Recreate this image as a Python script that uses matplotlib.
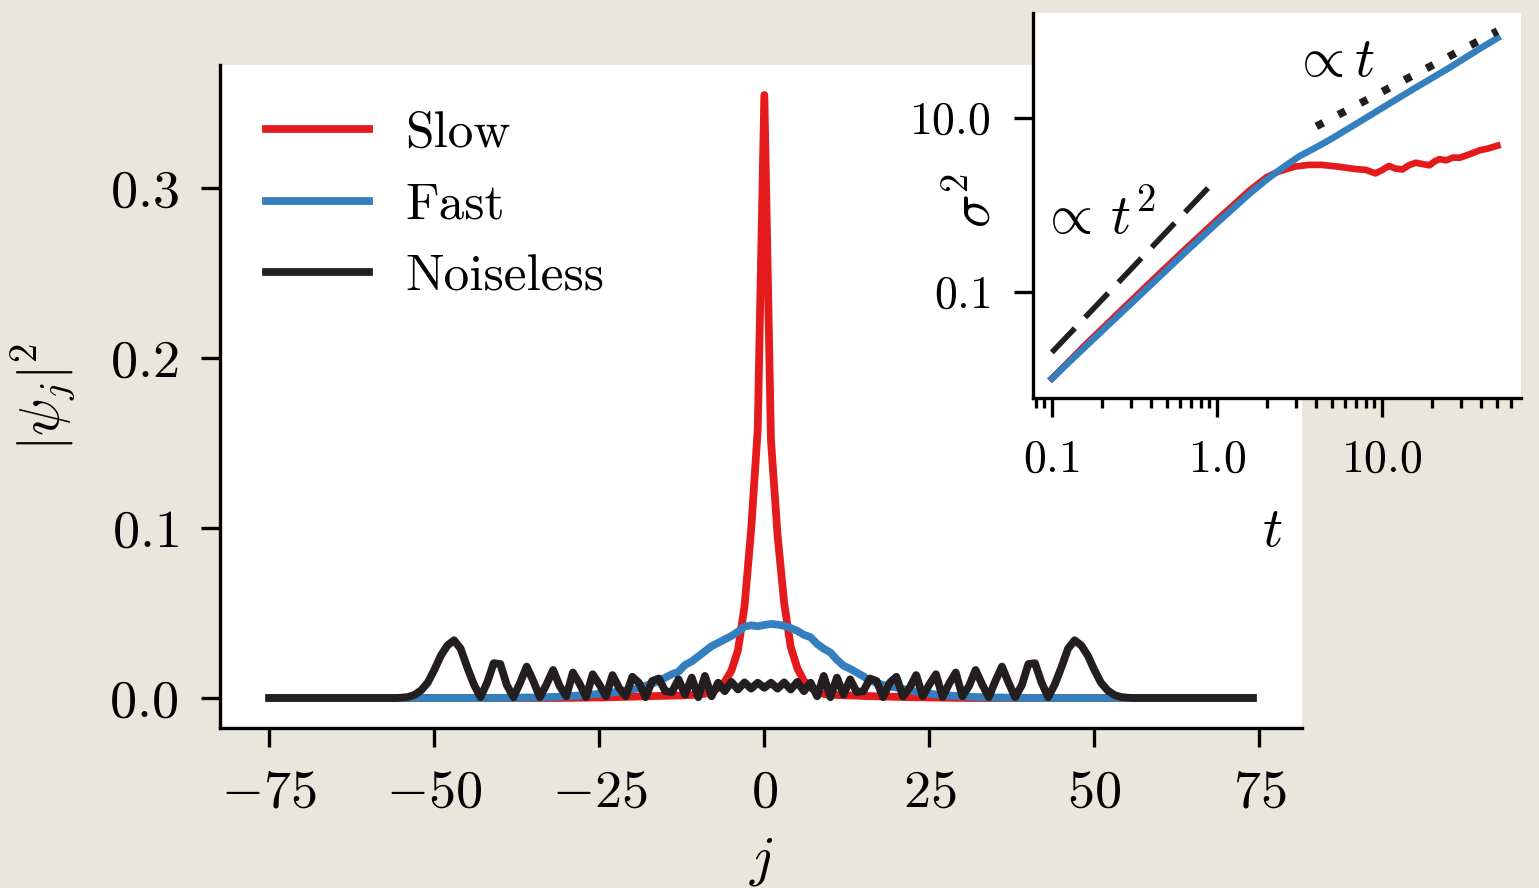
import numpy as np
import matplotlib
matplotlib.use("Agg")
import matplotlib.pyplot as plt
from matplotlib.ticker import FuncFormatter, FixedLocator, LogLocator, NullFormatter, NullLocator

plt.rcParams["font.family"] = "serif"
plt.rcParams["font.serif"] = ["cmr10", "DejaVu Serif"]
plt.rcParams["mathtext.fontset"] = "cm"
plt.rcParams["axes.unicode_minus"] = False

BG = "#e9e7db"
RED = "#e41a1c"
BLUE = "#3480bf"
BLACK = "#231f20"

# ---- main panel: site probabilities, j = -75 .. 74
j = np.arange(-75, 75)

# noiseless walk, j = 0 .. 55 (mirrored for negative j)
noiseless_half = [
    0.0060, 0.0090, 0.0055, 0.0092, 0.0050, 0.0095, 0.0040, 0.0090, 0.0010, 0.0130,
    0.0005, 0.0120, 0.0020, 0.0110, 0.0035, 0.0040, 0.0115, 0.0100, 0.0005, 0.0090,
    0.0125, 0.0010, 0.0060, 0.0135, 0.0010, 0.0080, 0.0140, 0.0005, 0.0085, 0.0150,
    0.0010, 0.0070, 0.0165, 0.0080, 0.0005, 0.0100, 0.0185, 0.0090, 0.0005, 0.0075,
    0.0200, 0.0205, 0.0090, 0.0005, 0.0080, 0.0180, 0.0290, 0.0340, 0.0310, 0.0250,
    0.0165, 0.0090, 0.0045, 0.0018, 0.0006, 0.0002,
]
noiseless = [0.0] * 20 + noiseless_half[:0:-1] + noiseless_half + [0.0] * 19

# fast noise, j = -40 .. 40
fast_core = [
    0.0001, 0.0001, 0.0002, 0.0002, 0.0003, 0.0003, 0.0004, 0.0005, 0.0006, 0.0008,
    0.0010, 0.0012, 0.0015, 0.0018, 0.0021, 0.0024, 0.0028, 0.0033, 0.0038, 0.0044,
    0.0050, 0.0060, 0.0072, 0.0085, 0.0100, 0.0120, 0.0140, 0.0155, 0.0195, 0.0215,
    0.0245, 0.0275, 0.0305, 0.0325, 0.0345, 0.0365, 0.0390, 0.0420, 0.0428, 0.0422,
    0.0430,
    0.0436, 0.0432, 0.0425, 0.0412, 0.0395, 0.0372, 0.0358, 0.0318, 0.0290, 0.0268,
    0.0225, 0.0190, 0.0172, 0.0150, 0.0128, 0.0102, 0.0090, 0.0076, 0.0068, 0.0062,
    0.0053, 0.0045, 0.0038, 0.0031, 0.0025, 0.0021, 0.0017, 0.0014, 0.0012, 0.0010,
    0.0008, 0.0006, 0.0005, 0.0004, 0.0003, 0.0003, 0.0002, 0.0002, 0.0001, 0.0001,
]
fast = [0.0] * 35 + fast_core + [0.0] * 34

# slow noise, j = -30 .. 30
slow_core = [
    0.0001, 0.0001, 0.0002, 0.0002, 0.0003, 0.0003, 0.0004, 0.0005, 0.0006, 0.0007,
    0.0008, 0.0009, 0.0010, 0.0011, 0.0012, 0.0013, 0.0014, 0.0015, 0.0016, 0.0018,
    0.0021, 0.0025, 0.0035, 0.0060, 0.0095, 0.0160, 0.0280, 0.0540, 0.0990, 0.1580,
    0.3550,
    0.1520, 0.0960, 0.0560, 0.0300, 0.0175, 0.0100, 0.0062, 0.0036, 0.0024, 0.0020,
    0.0018, 0.0016, 0.0015, 0.0014, 0.0012, 0.0011, 0.0010, 0.0009, 0.0008, 0.0007,
    0.0006, 0.0005, 0.0004, 0.0004, 0.0003, 0.0003, 0.0002, 0.0002, 0.0001, 0.0001,
]
slow = [0.0] * 45 + slow_core + [0.0] * 44

# ---- inset: variance vs time
t_fast = [0.1, 0.158, 0.251, 0.398, 0.631, 1.0, 1.58, 2.0, 2.51, 3.16, 3.98, 5.01,
          7.08, 10.0, 15.8, 25.1, 39.8, 50.0]
var_fast = [0.0100, 0.0229, 0.0525, 0.120, 0.275, 0.617, 1.35, 1.95, 2.69, 3.63, 4.57,
            5.85, 8.7, 13.0, 22.0, 37.0, 64.0, 83.0]

t_slow = [0.1, 0.158, 0.251, 0.398, 0.631, 1.0, 1.58, 2.0, 2.3, 2.95, 3.6, 4.3, 5.43,
          6.88, 8.0, 9.12, 10.0, 11.0, 12.0, 13.3, 14.5, 16.0, 17.5, 19.4, 21.0, 22.3,
          24.5, 26.9, 29.5, 32.4, 35.5, 39.2, 44.0, 50.0]
var_slow = [0.0100, 0.024, 0.056, 0.130, 0.298, 0.67, 1.47, 2.08, 2.37, 2.75, 2.88,
            2.88, 2.75, 2.58, 2.52, 2.30, 2.51, 2.80, 2.62, 2.55, 2.85, 3.05, 2.95,
            2.85, 3.20, 3.35, 3.25, 3.50, 3.48, 3.70, 3.95, 4.25, 4.45, 4.79]

guide_t2_t = [0.1, 1.0]
guide_t2_v = [0.02, 2.0]
guide_t_t = [4.0, 50.0]
guide_t_v = [8.0, 100.0]

fig = plt.figure(figsize=(7.695, 4.44), dpi=200, facecolor=BG)

ax = fig.add_axes([0.143, 0.180, 0.703, 0.747])
ax.set_facecolor("white")
ax.plot(j, slow, color=RED, lw=2.8, label="Slow")
ax.plot(j, fast, color=BLUE, lw=2.8, label="Fast")
ax.plot(j, noiseless, color=BLACK, lw=2.8, label="Noiseless")

for s in ["top", "right"]:
    ax.spines[s].set_visible(False)
for s in ["left", "bottom"]:
    ax.spines[s].set_linewidth(1.2)
ax.xaxis.set_major_locator(FixedLocator([-75, -50, -25, 0, 25, 50, 75]))
ax.yaxis.set_major_locator(FixedLocator([0.0, 0.1, 0.2, 0.3]))
ax.xaxis.set_major_formatter(FuncFormatter(lambda v, p: f"${int(round(v))}$"))
ax.yaxis.set_major_formatter(FuncFormatter(lambda v, p: f"${v:.1f}$"))
ax.tick_params(direction="out", length=7, width=1.2, labelsize=19.5, pad=8)
ax.set_xlabel(r"$j$", fontsize=20)
ax.set_ylabel(r"$|\psi_j|^2$", fontsize=20)
ax.xaxis.set_label_coords(0.5, -0.163)
ax.yaxis.set_label_coords(-0.131, 0.5)

ax.legend(loc="upper left", frameon=False, fontsize=18.5, handlelength=2.0,
          handletextpad=0.7, labelspacing=0.5)

ins = fig.add_axes([0.671, 0.552, 0.317, 0.433])
ins.set_facecolor("white")
ins.plot(t_slow, var_slow, color=RED, lw=2.4)
ins.plot(t_fast, var_fast, color=BLUE, lw=2.4)
ins.plot(guide_t2_t, guide_t2_v, color=BLACK, lw=2.0, dashes=(6, 2.7))
ins.plot(guide_t_t, guide_t_v, color=BLACK, lw=2.8, dashes=(1, 2.2))
ins.set_xscale("log")
ins.set_yscale("log")
ins.set_xlim(0.0765, 69)
ins.set_ylim(0.006, 160)

for s in ["top", "right"]:
    ins.spines[s].set_visible(False)
for s in ["left", "bottom"]:
    ins.spines[s].set_linewidth(1.2)
ins.xaxis.set_major_locator(FixedLocator([0.1, 1.0, 10.0]))
ins.xaxis.set_minor_locator(LogLocator(base=10, subs=np.arange(2, 10)))
ins.xaxis.set_minor_formatter(NullFormatter())
ins.yaxis.set_major_locator(FixedLocator([0.1, 10.0]))
ins.yaxis.set_minor_locator(NullLocator())
ins.xaxis.set_major_formatter(FuncFormatter(lambda v, p: f"${v:.1f}$"))
ins.yaxis.set_major_formatter(FuncFormatter(lambda v, p: f"${v:.1f}$"))
ins.tick_params(which="major", direction="out", length=7, width=1.2, labelsize=16.5, pad=8)
ins.tick_params(which="minor", direction="out", length=3.6, width=1.2)
ins.set_xlabel(r"$t$", fontsize=20)
ins.set_ylabel(r"$\sigma^2$", fontsize=20)
ins.xaxis.set_label_coords(0.491, -0.285)
ins.yaxis.set_label_coords(-0.066, 0.514)

ins.text(0.133, 0.468, r"$\propto\, t^2$", transform=ins.transAxes, fontsize=20,
         ha="center", va="center")
ins.text(0.616, 0.873, r"$\propto t$", transform=ins.transAxes, fontsize=20,
         ha="center", va="center")

fig.savefig("out.png", dpi=200, facecolor=BG)
